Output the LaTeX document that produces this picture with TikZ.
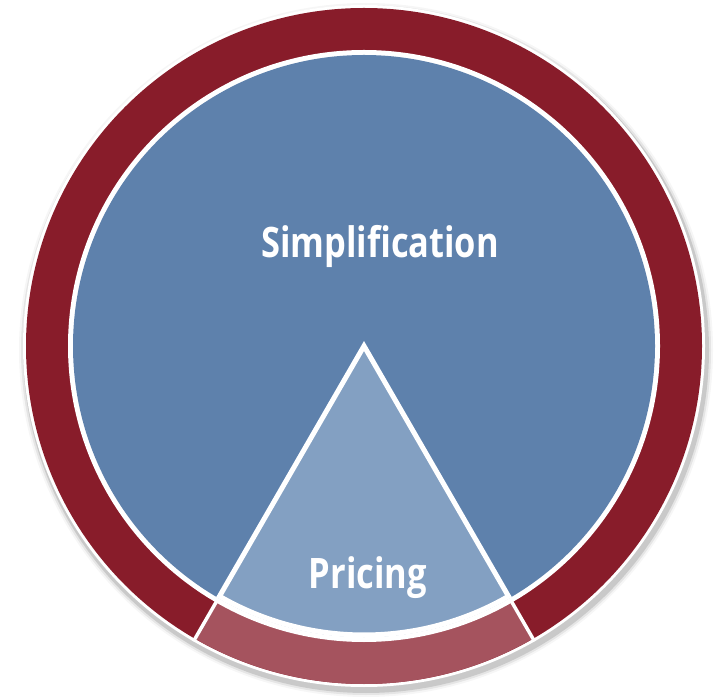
\documentclass[tikz,border=0pt]{standalone}
\usepackage{fontspec}
\setmainfont{Open Sans}
\newfontfamily\condfont[FakeStretch=0.82]{Open Sans}
\usepackage{tikz}
\definecolor{ringred}{RGB}{136,28,42}
\definecolor{ringpink}{RGB}{165,83,94}
\definecolor{coreblue}{RGB}{94,129,172}
\definecolor{wedgeblue}{RGB}{131,160,194}

\begin{document}
\begin{tikzpicture}[x=1pt,y=1pt,
	caption/.style={anchor=base,text=white,font=\condfont\bfseries\fontsize{42}{48}\selectfont},
	sep/.style={white,line width=5pt}]
\useasboundingbox (0,0) rectangle (717,699);
\coordinate (O) at (364,353);
% soft shadow under the disc
\foreach \r/\o in {347/6,345/12,343/20}
	\fill[black,opacity=\o/100*0.6] ([shift={(2,-4)}]O) circle (\r);
\fill[white] (O) circle (341);
% outer ring and its lower segment
\fill[ringred] (O) circle (338);
\fill[ringpink] (O) -- +(240:338) arc (240:300:338) -- cycle;
\fill[white] (O) circle (296);
\draw[sep,line width=3.5pt] (O) -- +(240:341);
\draw[sep,line width=3.5pt] (O) -- +(300:341);
% inner disc with the wedge
\fill[coreblue] (O) circle (291);
\filldraw[wedgeblue,draw=white,line width=5pt,line join=miter] (O) -- +(240:289) arc (240:300:289) -- cycle;
\node[caption] (simp) at (380,441) {Simplification};
\node[caption] (price) at (368,111) {Pricing};
\end{tikzpicture}
\end{document}
